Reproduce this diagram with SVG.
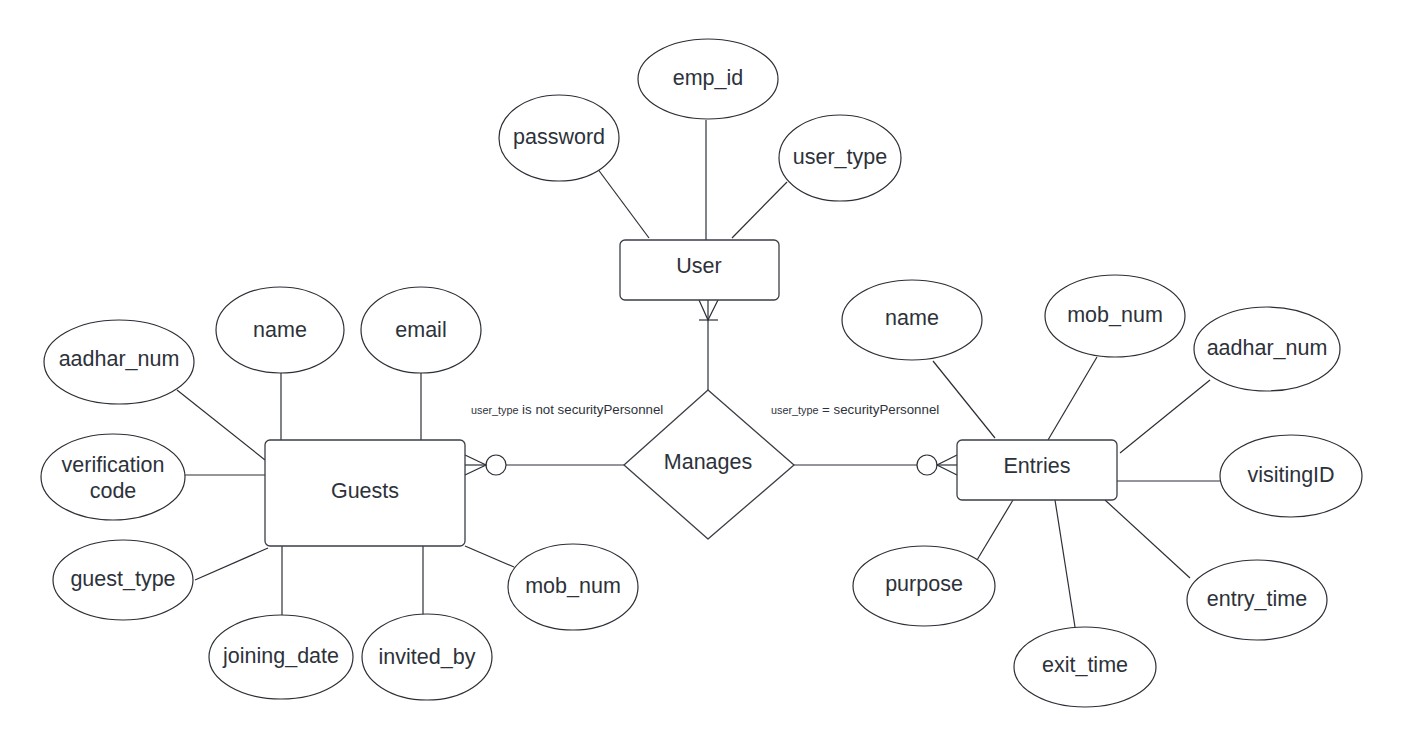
<svg xmlns="http://www.w3.org/2000/svg" width="1402" height="749" viewBox="0 0 1402 749">
<style>
.bg{fill:#ffffff}
.attr{fill:#ffffff;stroke:#2b2f36;stroke-width:1.2}
.ent{fill:#ffffff;stroke:#3a3f47;stroke-width:1.3}
.ln{stroke:#2b2f36;stroke-width:1.2;fill:none}
.t{font-family:"Liberation Sans",Arial,sans-serif;font-size:21.5px;fill:#2d323a;text-anchor:middle;dominant-baseline:central}
.lbl{font-family:"Liberation Sans",Arial,sans-serif;font-size:13.3px;fill:#2d323a}
.sm{font-size:10.8px}
</style>
<rect class="bg" x="0" y="0" width="1402" height="749"/>
<g id="connectors">
<!-- User attributes -->
<line class="ln" x1="597" y1="168" x2="649" y2="238"/>
<line class="ln" x1="706" y1="120" x2="706" y2="240"/>
<line class="ln" x1="787" y1="182" x2="732" y2="238"/>
<!-- User - Manages -->
<line class="ln" x1="708" y1="300" x2="708" y2="390"/>
<polyline class="ln" points="699,300 708,320 718,300"/>
<line class="ln" x1="699" y1="320" x2="718" y2="320"/>
<!-- Guests - Manages -->
<line class="ln" x1="506" y1="465" x2="624" y2="465"/>
<polyline class="ln" points="465,455 486,465 465,475"/>
<line class="ln" x1="465" y1="465" x2="486" y2="465"/>
<circle class="ln" cx="496" cy="465" r="10"/>
<!-- Manages - Entries -->
<line class="ln" x1="794" y1="465" x2="917" y2="465"/>
<polyline class="ln" points="957,455 937,465 957,475"/>
<line class="ln" x1="937" y1="465" x2="957" y2="465"/>
<circle class="ln" cx="927" cy="465" r="10"/>
<!-- Guests attributes -->
<line class="ln" x1="177" y1="390" x2="265" y2="460"/>
<line class="ln" x1="281" y1="373" x2="281" y2="440"/>
<line class="ln" x1="421" y1="373" x2="421" y2="440"/>
<line class="ln" x1="185" y1="475" x2="265" y2="475"/>
<line class="ln" x1="195" y1="580" x2="268" y2="548"/>
<line class="ln" x1="282" y1="546" x2="282" y2="615"/>
<line class="ln" x1="423" y1="546" x2="423" y2="615"/>
<line class="ln" x1="465" y1="546" x2="514" y2="567"/>
<!-- Entries attributes -->
<line class="ln" x1="933" y1="361" x2="995" y2="438"/>
<line class="ln" x1="1097" y1="357" x2="1048" y2="440"/>
<line class="ln" x1="1210" y1="380" x2="1120" y2="453"/>
<line class="ln" x1="1117" y1="481" x2="1220" y2="481"/>
<line class="ln" x1="1105" y1="500" x2="1190" y2="578"/>
<line class="ln" x1="1055" y1="500" x2="1075" y2="627"/>
<line class="ln" x1="1013" y1="500" x2="977" y2="560"/>
</g>
<g id="rel-labels">
<text class="lbl" x="471" y="414"><tspan class="sm">user_type</tspan> is not securityPersonnel</text>
<text class="lbl" x="771" y="414"><tspan class="sm">user_type</tspan> = securityPersonnel</text>
</g>
<g id="user"><rect class="ent" x="620" y="240" width="159" height="60" rx="5"/><text class="t" x="699" y="266">User</text></g>
<g id="guests"><rect class="ent" x="265" y="440" width="200" height="106" rx="5"/><text class="t" x="365" y="491">Guests</text></g>
<g id="entries"><rect class="ent" x="957" y="440" width="160" height="60" rx="5"/><text class="t" x="1037" y="466">Entries</text></g>
<g id="manages"><polygon class="ent" points="708,390 794,465 708,539 624,465" stroke-linejoin="round"/><text class="t" x="708" y="462">Manages</text></g>
<g id="u-password"><ellipse class="attr" cx="559" cy="138" rx="60" ry="43"/><text class="t" x="559" y="137">password</text></g>
<g id="u-emp_id"><ellipse class="attr" cx="708" cy="79" rx="70" ry="40"/><text class="t" x="708" y="78">emp_id</text></g>
<g id="u-user_type"><ellipse class="attr" cx="840" cy="158" rx="61" ry="43"/><text class="t" x="840" y="157">user_type</text></g>
<g id="g-aadhar_num"><ellipse class="attr" cx="119" cy="362" rx="75" ry="42"/><text class="t" x="119" y="359">aadhar_num</text></g>
<g id="g-name"><ellipse class="attr" cx="280" cy="330" rx="64" ry="43"/><text class="t" x="280" y="330">name</text></g>
<g id="g-email"><ellipse class="attr" cx="421" cy="330" rx="60" ry="43"/><text class="t" x="421" y="330">email</text></g>
<g id="g-verification"><ellipse class="attr" cx="113" cy="477" rx="72" ry="43"/><text class="t" x="113" y="465">verification</text><text class="t" x="113" y="491">code</text></g>
<g id="g-guest_type"><ellipse class="attr" cx="123" cy="580" rx="70" ry="40"/><text class="t" x="123" y="579">guest_type</text></g>
<g id="g-joining_date"><ellipse class="attr" cx="281" cy="657" rx="72" ry="42"/><text class="t" x="281" y="656">joining_date</text></g>
<g id="g-invited_by"><ellipse class="attr" cx="427" cy="657" rx="65" ry="43"/><text class="t" x="427" y="657">invited_by</text></g>
<g id="g-mob_num"><ellipse class="attr" cx="573" cy="587" rx="65" ry="43"/><text class="t" x="573" y="586">mob_num</text></g>
<g id="e-name"><ellipse class="attr" cx="912" cy="320" rx="70" ry="40"/><text class="t" x="912" y="318">name</text></g>
<g id="e-mob_num"><ellipse class="attr" cx="1115" cy="316" rx="70" ry="41"/><text class="t" x="1115" y="315">mob_num</text></g>
<g id="e-aadhar_num"><ellipse class="attr" cx="1267" cy="349" rx="73" ry="42"/><text class="t" x="1267" y="348">aadhar_num</text></g>
<g id="e-visitingID"><ellipse class="attr" cx="1291" cy="476" rx="71" ry="41"/><text class="t" x="1291" y="475">visitingID</text></g>
<g id="e-entry_time"><ellipse class="attr" cx="1257" cy="600" rx="70" ry="40"/><text class="t" x="1257" y="599">entry_time</text></g>
<g id="e-exit_time"><ellipse class="attr" cx="1085" cy="667" rx="71" ry="40"/><text class="t" x="1085" y="665">exit_time</text></g>
<g id="e-purpose"><ellipse class="attr" cx="924" cy="586" rx="71" ry="40"/><text class="t" x="924" y="584">purpose</text></g>
</svg>
